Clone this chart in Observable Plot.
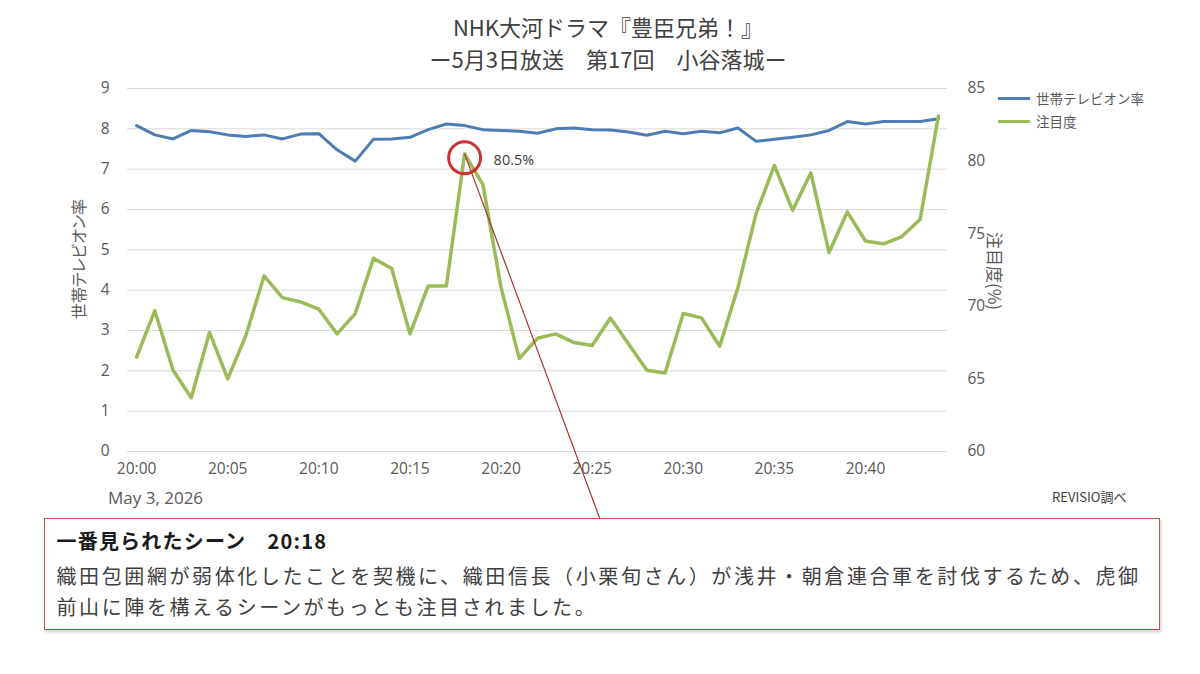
<!DOCTYPE html>
<html>
<head>
<meta charset="utf-8">
<script src="https://cdn.jsdelivr.net/npm/d3@7"></script>
<script src="https://cdn.jsdelivr.net/npm/@observablehq/plot@0.6"></script>
<style>
  body { margin:0; background:#fff; width:1200px; height:674px; position:relative; overflow:hidden;
         font-family:"Noto Sans CJK JP","Noto Sans",sans-serif; }
  #title { height:76px; box-sizing:border-box; padding-top:10px; padding-left:16px; text-align:center;
           color:#404040; font-size:22px; line-height:32px; white-space:nowrap; }
  #chart svg { display:block; overflow:visible; }
  #chart svg text { font-feature-settings:"palt"; }
  .legend { position:absolute; left:998px; font-size:13.5px; color:#595959; display:flex; align-items:center; height:20px; }
  .legend span.sw { display:inline-block; width:32px; height:3px; margin-right:6px; }
  #date { position:absolute; left:108px; top:486px; font-family:"Open Sans",sans-serif; font-size:17px; color:#595959; }
  #source { position:absolute; left:1052px; top:487px; font-size:13px; color:#404040; }
  #box { position:absolute; left:44px; top:518px; width:1116px; height:112px; box-sizing:border-box;
         border:1.5px solid #c0504d; box-shadow:1px 2px 3px rgba(0,0,0,0.2); background:#fff;
         padding:6px 0 0 11.5px; white-space:nowrap; }
  #box .head { font-size:20px; font-weight:bold; color:#1a1a1a; line-height:31px; letter-spacing:1.2px; margin-bottom:4px; }
  #box .body { font-size:20px; color:#404040; line-height:31px; letter-spacing:2.6px; }
</style>
</head>
<body>
<div id="title">NHK大河ドラマ『豊臣兄弟！』<br>ー5月3日放送　第17回　小谷落城ー</div>
<div id="chart"></div>
<div class="legend" style="top:88px;"><span class="sw" style="background:#4f7db3"></span>世帯テレビオン率</div>
<div class="legend" style="top:111px;"><span class="sw" style="background:#9bbb59"></span>注目度</div>
<div id="date">May 3, 2026</div>
<div id="source">REVISIO調べ</div>
<div id="box">
  <div class="head">一番見られたシーン　20:18</div>
  <div class="body">織田包囲網が弱体化したことを契機に、織田信長（小栗旬さん）が浅井・朝倉連合軍を討伐するため、虎御<br>前山に陣を構えるシーンがもっとも注目されました。</div>
</div>
<script>
// ---- data ----
const times = ["20:00","20:01","20:02","20:03","20:04","20:05","20:06","20:07","20:08","20:09",
               "20:10","20:11","20:12","20:13","20:14","20:15","20:16","20:17","20:18","20:19",
               "20:20","20:21","20:22","20:23","20:24","20:25","20:26","20:27","20:28","20:29",
               "20:30","20:31","20:32","20:33","20:34","20:35","20:36","20:37","20:38","20:39",
               "20:40","20:41","20:42","20:43","20:44"];
// 世帯テレビオン率 (left axis)
const tvRate = [8.08,7.85,7.75,7.96,7.93,7.85,7.81,7.85,7.75,7.87,
                7.88,7.48,7.20,7.74,7.75,7.79,7.98,8.12,8.08,7.98,
                7.96,7.94,7.89,8.00,8.02,7.98,7.97,7.92,7.84,7.94,
                7.88,7.94,7.90,8.02,7.69,7.74,7.79,7.85,7.96,8.18,
                8.12,8.18,8.18,8.18,8.25];
// 注目度 (%) (right axis)
const attention = [66.5,69.7,65.6,63.7,68.2,65.0,68.0,72.1,70.6,70.3,
                   69.8,68.1,69.5,73.3,72.6,68.1,71.4,71.4,80.5,78.4,
                   71.3,66.4,67.8,68.1,67.5,67.3,69.2,67.4,65.6,65.4,
                   69.5,69.2,67.25,71.3,76.4,79.7,76.6,79.2,73.7,76.5,
                   74.5,74.3,74.8,76.0,83.1];
const leftTicks = [0,1,2,3,4,5,6,7,8,9];
const rightTicks = [60,65,70,75,80,85];
const xTicks = ["20:00","20:05","20:10","20:15","20:20","20:25","20:30","20:35","20:40"];
const xDomain = ["19:59:30","20:44:30"];
const peak = [{time:"20:18", value:80.5, label:"80.5%"}];
const callout = [{from:"20:18", fromValue:80.5, to:"20:25:25", toLeft:-1.66}];

// ---- helpers ----
const toDate = s => { const [h,m,sec=0] = s.split(":").map(Number); return new Date(Date.UTC(2026,4,3,h,m,sec)); };
const rMin = 60, rMax = 85, lMax = 9;
const r2l = v => (v - rMin) * lMax / (rMax - rMin);
const l2r = v => rMin + v * (rMax - rMin) / lMax;

const rows = times.map((t,i) => ({t: toDate(t), tv: tvRate[i], at: attention[i]}));

const BLUE = "#4f7db3", GREEN = "#9bbb59", RED = "#c8322f";
const CJK = '"Noto Sans CJK JP",sans-serif';

const chart = Plot.plot({
  width: 1200, height: 442,
  marginTop: 12, marginBottom: 67, marginLeft: 127, marginRight: 253,
  style: {fontFamily: '"Open Sans","Noto Sans CJK JP",sans-serif', fontSize: "15.5px", color: "#595959", background: "transparent", overflow: "visible"},
  x: {type: "utc", domain: xDomain.map(toDate)},
  y: {domain: [0, lMax]},
  marks: [
    Plot.gridY(leftTicks, {stroke: "#d9d9d9", strokeOpacity: 1, strokeWidth: 1}),
    Plot.axisY(leftTicks, {anchor: "left", tickSize: 0, tickPadding: 18, label: null}),
    Plot.axisY(rightTicks.map(r2l), {anchor: "right", tickSize: 0, tickPadding: 20, label: null,
      tickFormat: d => String(Math.round(l2r(d)))}),
    Plot.axisX(xTicks.map(toDate), {anchor: "bottom", tickSize: 0, tickPadding: 11, label: null,
      tickFormat: d3.utcFormat("%H:%M")}),
    Plot.text(["世帯テレビオン率"], {frameAnchor: "left", textAnchor: "middle", dx: -48, dy: -11, rotate: -90,
      fontSize: 16, fill: "#595959", fontFamily: CJK}),
    Plot.text(["注目度(%)"], {frameAnchor: "right", textAnchor: "middle", dx: 46, dy: 1, rotate: 90,
      fontSize: 17, fill: "#595959", fontFamily: CJK}),
    Plot.line(rows, {x: "t", y: "tv", stroke: BLUE, strokeWidth: 3, curve: "linear"}),
    Plot.line(rows, {x: "t", y: d => r2l(d.at), stroke: GREEN, strokeWidth: 3.5, curve: "linear"}),
    Plot.link(callout, {x1: d => toDate(d.from), y1: d => r2l(d.fromValue), x2: d => toDate(d.to), y2: "toLeft",
      stroke: "#a8302d", strokeWidth: 1.2}),
    Plot.dot(peak, {x: d => toDate(d.time), y: d => r2l(d.value), r: 16, dy: 4, stroke: RED, strokeWidth: 3, fill: "none"}),
    Plot.text(peak, {x: d => toDate(d.time), y: d => r2l(d.value), text: "label", dx: 29, dy: 7,
      textAnchor: "start", fontSize: 14.5, fill: "#404040"})
  ]
});
document.getElementById("chart").appendChild(chart);
</script>
</body>
</html>
